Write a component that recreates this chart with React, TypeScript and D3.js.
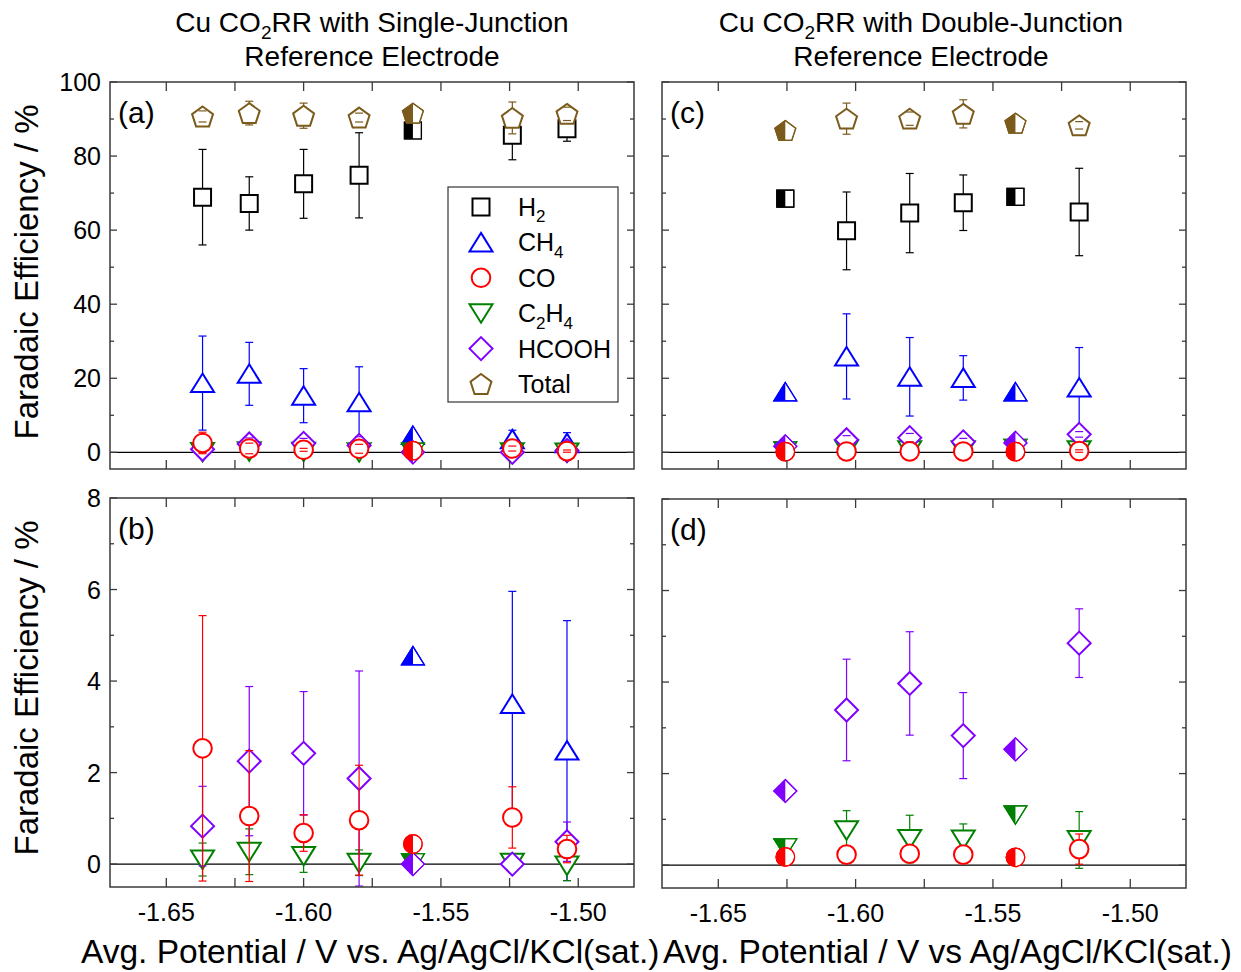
import React from 'react';
import * as d3 from 'd3';

const W = 1241;
const H = 972;
const FONT = '"Liberation Sans", Arial, Helvetica, sans-serif';

// ---- Single-junction reference electrode runs ----
const potentialSJ = [-1.6368, -1.6198, -1.6, -1.5798, -1.5602, -1.524, -1.5041];
const halfFilledSJ = [4];
const h2SJ = [68.9, 67.2, 72.5, 74.8, 86.9, 85.6, 87.4];
const h2SJErr = [12.9, 7.2, 9.3, 11.5, null, 6.6, 3.4];
const ch4SJ = [18.7, 21.2, 15.3, 13.5, 4.55, 3.5, 2.48];
const ch4SJErr = [12.7, 8.5, 7.3, 9.6, null, 2.46, 2.84];
const coSJ = [2.53, 1.05, 0.68, 0.96, 0.44, 1.02, 0.33];
const coSJErr = [2.9, 1.43, 0.4, 1.2, null, 0.67, 0.3];
const c2h4SJ = [0.1, 0.27, 0.18, 0.03, 0.03, 0.03, -0.03];
const c2h4SJErr = [0.36, 0.5, 0.36, 0.28, null, 0.08, 0.33];
const hcoohSJ = [0.83, 2.25, 2.42, 1.87, 0.0, 0.0, 0.49];
const hcoohSJErr = [0.87, 1.63, 1.35, 2.35, null, null, 0.43];
const totalSJ = [90.7, 91.6, 90.9, 90.4, 91.6, 90.3, 91.4];
const totalSJErr = [1.5, 3.2, 3.4, 1.2, null, 4.3, 1.8];

// ---- Double-junction reference electrode runs ----
const potentialDJ = [-1.6256, -1.6033, -1.5803, -1.5608, -1.5418, -1.5186];
const halfFilledDJ = [0, 4];
const h2DJ = [68.5, 59.8, 64.6, 67.4, 69.0, 64.9];
const h2DJErr = [null, 10.5, 10.7, 7.5, null, 11.8];
const ch4DJ = [16.3, 25.9, 20.4, 20.1, 16.3, 17.5];
const ch4DJErr = [null, 11.5, 10.6, 6.0, null, 10.8];
const coDJ = [0.18, 0.23, 0.25, 0.23, 0.17, 0.35];
const coDJErr = [null, null, null, null, null, 0.33];
const c2h4DJ = [0.38, 0.76, 0.57, 0.56, 1.1, 0.55];
const c2h4DJErr = [null, 0.43, 0.52, 0.34, null, 0.62];
const hcoohDJ = [1.62, 3.39, 3.97, 2.83, 2.53, 4.85];
const hcoohDJErr = [null, 1.11, 1.13, 0.94, null, 0.75];
const totalDJ = [86.9, 90.1, 90.1, 91.4, 88.9, 88.3];
const totalDJErr = [null, 4.2, 1.8, 3.8, null, 1.0];

// ---- Axes ----
const xDomain: [number, number] = [-1.6705, -1.4797];
const xTicks = [-1.65, -1.625, -1.6, -1.575, -1.55, -1.525, -1.5];
const xLabelTicks = [-1.65, -1.6, -1.55, -1.5];
const yMajorFull = [0, 20, 40, 60, 80, 100];
const yMinorFull = [10, 30, 50, 70, 90];
const yMajorZoom = [0, 2, 4, 6, 8];
const yMinorZoom = [1, 3, 5, 7];

type Sym = 'square' | 'triUp' | 'triDown' | 'circle' | 'diamond' | 'pentagon';

const species: { key: string; label: string; color: string; sym: Sym }[] = [
  { key: 'H2', label: 'H2', color: '#000000', sym: 'square' },
  { key: 'CH4', label: 'CH4', color: '#0000FF', sym: 'triUp' },
  { key: 'CO', label: 'CO', color: '#FF0000', sym: 'circle' },
  { key: 'C2H4', label: 'C2H4', color: '#008000', sym: 'triDown' },
  { key: 'HCOOH', label: 'HCOOH', color: '#8000FF', sym: 'diamond' },
  { key: 'Total', label: 'Total', color: '#7B5B1B', sym: 'pentagon' },
];
const drawOrder = ['H2', 'CH4', 'C2H4', 'HCOOH', 'CO', 'Total'];

type Series = { v: number[]; e: (number | null)[] };
const dataSJ: Record<string, Series> = {
  H2: { v: h2SJ, e: h2SJErr },
  CH4: { v: ch4SJ, e: ch4SJErr },
  CO: { v: coSJ, e: coSJErr },
  C2H4: { v: c2h4SJ, e: c2h4SJErr },
  HCOOH: { v: hcoohSJ, e: hcoohSJErr },
  Total: { v: totalSJ, e: totalSJErr },
};
const dataDJ: Record<string, Series> = {
  H2: { v: h2DJ, e: h2DJErr },
  CH4: { v: ch4DJ, e: ch4DJErr },
  CO: { v: coDJ, e: coDJErr },
  C2H4: { v: c2h4DJ, e: c2h4DJErr },
  HCOOH: { v: hcoohDJ, e: hcoohDJErr },
  Total: { v: totalDJ, e: totalDJErr },
};

function pentagonPath(r: number): string {
  const pts = d3.range(5).map((i) => {
    const a = -Math.PI / 2 + (i * 2 * Math.PI) / 5;
    return [r * Math.cos(a), r * Math.sin(a) + r * 0.095];
  });
  return 'M' + pts.map((p) => p[0].toFixed(2) + ',' + p[1].toFixed(2)).join('L') + 'Z';
}

const symbolPaths: Record<Sym, string> = {
  square: 'M-8.5,-8.5H8.5V8.5H-8.5Z',
  triUp: 'M0,-9.5L11.5,9L-11.5,9Z',
  triDown: 'M0,9.5L11.5,-9L-11.5,-9Z',
  circle: d3.arc()({ innerRadius: 0, outerRadius: 9.3, startAngle: 0, endAngle: 2 * Math.PI } as any) as string,
  diamond: 'M0,-11.5L11.5,0L0,11.5L-11.5,0Z',
  pentagon: pentagonPath(11),
};
const symbolGap: Record<Sym, number> = {
  square: 8.5, triUp: 9.5, triDown: 9.5, circle: 9.3, diamond: 11.5, pentagon: 10,
};

// Chemical formula text: digits become subscripts
function Chem({ text, sub }: { text: string; sub: number }) {
  const parts = text.match(/\d+|\D+/g) || [];
  const shift = sub * 0.38;
  let lowered = false;
  return (
    <>
      {parts.map((p, i) => {
        const isNum = /\d/.test(p);
        let dy = 0;
        if (isNum && !lowered) { dy = shift; lowered = true; }
        else if (!isNum && lowered) { dy = -shift; lowered = false; }
        return (
          <tspan key={i} dy={dy} fontSize={isNum ? sub : undefined}>{p}</tspan>
        );
      })}
    </>
  );
}

function Marker({ x, y, sym, color, half }: { x: number; y: number; sym: Sym; color: string; half: boolean }) {
  const d = symbolPaths[sym];
  return (
    <g transform={`translate(${x},${y})`}>
      <path d={d} fill="#ffffff" stroke={color} strokeWidth={half ? 1.2 : 2} strokeLinejoin="miter" />
      {half && <path d={d} fill={color} clipPath="url(#leftHalf)" />}
      {half && <path d={d} fill="none" stroke={color} strokeWidth={1.2} />}
    </g>
  );
}

type PanelProps = {
  x0: number; x1: number; y0: number; y1: number;
  yDomain: [number, number];
  yMajor: number[]; yMinor: number[];
  showYLabels: boolean; showXLabels: boolean;
  letter: string;
  potential: number[]; half: number[];
  data: Record<string, Series>;
};

function Panel(p: PanelProps) {
  const xs = d3.scaleLinear().domain(xDomain).range([p.x0, p.x1]);
  const ys = d3.scaleLinear().domain(p.yDomain).range([p.y1, p.y0]);
  const frame = '#3a3a3a';
  const inRange = (v: number) => v >= p.yDomain[0] && v <= p.yDomain[1];

  return (
    <g>
      {/* zero line */}
      <line x1={p.x0} x2={p.x1} y1={ys(0)} y2={ys(0)} stroke="#000" strokeWidth={1.2} />

      {/* data */}
      {drawOrder.map((key) => {
        const sp = species.find((s) => s.key === key)!;
        const series = p.data[key];
        const gap = symbolGap[sp.sym];
        return (
          <g key={key}>
            {series.v.map((v, i) => {
              if (!inRange(v)) return null;
              const cx = xs(p.potential[i]);
              const cy = ys(v);
              const e = series.e[i];
              const isHalf = p.half.includes(i);
              let bars: React.ReactNode = null;
              if (e != null) {
                const topV = v + e;
                const botV = v - e;
                const top = Math.max(ys(topV), p.y0);
                const bot = Math.min(ys(botV), p.y1);
                const capTop = topV <= p.yDomain[1];
                const capBot = botV >= p.yDomain[0];
                bars = (
                  <g stroke={sp.color} strokeWidth={1.2}>
                    {top < cy - gap && <line x1={cx} x2={cx} y1={top} y2={cy - gap} />}
                    {bot > cy + gap && <line x1={cx} x2={cx} y1={cy + gap} y2={bot} />}
                    {capTop && <line x1={cx - 4} x2={cx + 4} y1={top} y2={top} />}
                    {capBot && <line x1={cx - 4} x2={cx + 4} y1={bot} y2={bot} />}
                  </g>
                );
              }
              return (
                <g key={i}>
                  <Marker x={cx} y={cy} sym={sp.sym} color={sp.color} half={isHalf} />
                  {bars}
                </g>
              );
            })}
          </g>
        );
      })}

      {/* frame and ticks */}
      <rect x={p.x0} y={p.y0} width={p.x1 - p.x0} height={p.y1 - p.y0} fill="none" stroke={frame} strokeWidth={1.5} />
      <g stroke={frame} strokeWidth={1.3}>
        {xTicks.map((t) => (
          <g key={t}>
            <line x1={xs(t)} x2={xs(t)} y1={p.y0} y2={p.y0 + 9} />
            <line x1={xs(t)} x2={xs(t)} y1={p.y1} y2={p.y1 - 9} />
          </g>
        ))}
        {p.yMajor.map((t) => (
          <g key={'M' + t}>
            <line x1={p.x0} x2={p.x0 + 7} y1={ys(t)} y2={ys(t)} />
            <line x1={p.x1} x2={p.x1 - 7} y1={ys(t)} y2={ys(t)} />
          </g>
        ))}
        {p.yMinor.map((t) => (
          <g key={'m' + t}>
            <line x1={p.x0} x2={p.x0 + 4} y1={ys(t)} y2={ys(t)} />
            <line x1={p.x1} x2={p.x1 - 4} y1={ys(t)} y2={ys(t)} />
          </g>
        ))}
      </g>

      {p.showYLabels &&
        p.yMajor.map((t) => (
          <text key={'yl' + t} x={p.x0 - 9} y={ys(t) + 9} textAnchor="end" fontSize={25} fill="#000">
            {String(t)}
          </text>
        ))}
      {p.showXLabels &&
        xLabelTicks.map((t) => (
          <text key={'xl' + t} x={xs(t)} y={p.y1 + 34} textAnchor="middle" fontSize={25} fill="#000">
            {t.toFixed(2)}
          </text>
        ))}

      <text x={p.x0 + 8} y={p.y0 + 41} fontSize={30} fill="#000">{p.letter}</text>
    </g>
  );
}

function Legend({ x, y }: { x: number; y: number }) {
  const w = 170;
  const h = 215;
  return (
    <g>
      <rect x={x} y={y} width={w} height={h} fill="#ffffff" stroke="#333" strokeWidth={1.2} />
      {species.map((s, i) => {
        const cy = y + 20 + i * 35.4;
        return (
          <g key={s.key}>
            <Marker x={x + 33} y={cy} sym={s.sym} color={s.color} half={false} />
            <text x={x + 70} y={cy + 9} fontSize={25} fill="#000">
              <Chem text={s.label} sub={17} />
            </text>
          </g>
        );
      })}
    </g>
  );
}

export default function App() {
  const leftX: [number, number] = [110, 634];
  const rightX: [number, number] = [662, 1186];
  return (
    <svg
      width={W}
      height={H}
      viewBox={`0 0 ${W} ${H}`}
      style={{ position: 'absolute', left: 0, top: 0, background: '#fff' }}
      fontFamily={FONT}
    >
      <defs>
        <clipPath id="leftHalf" clipPathUnits="userSpaceOnUse">
          <rect x={-20} y={-20} width={20} height={40} />
        </clipPath>
      </defs>
      <rect x={0} y={0} width={W} height={H} fill="#fff" />

      {/* titles */}
      <text x={372} y={32} textAnchor="middle" fontSize={28} fill="#000">
        <Chem text="Cu CO2RR with Single-Junction" sub={19} />
      </text>
      <text x={372} y={66} textAnchor="middle" fontSize={28} fill="#000">Reference Electrode</text>
      <text x={921} y={32} textAnchor="middle" fontSize={28} fill="#000">
        <Chem text="Cu CO2RR with Double-Junction" sub={19} />
      </text>
      <text x={921} y={66} textAnchor="middle" fontSize={28} fill="#000">Reference Electrode</text>

      <Panel x0={leftX[0]} x1={leftX[1]} y0={82} y1={469} yDomain={[-4.5, 100]}
        yMajor={yMajorFull} yMinor={yMinorFull} showYLabels showXLabels={false}
        letter="(a)" potential={potentialSJ} half={halfFilledSJ} data={dataSJ} />
      <Panel x0={leftX[0]} x1={leftX[1]} y0={498} y1={887} yDomain={[-0.5, 8]}
        yMajor={yMajorZoom} yMinor={yMinorZoom} showYLabels showXLabels
        letter="(b)" potential={potentialSJ} half={halfFilledSJ} data={dataSJ} />
      <Panel x0={rightX[0]} x1={rightX[1]} y0={82} y1={469} yDomain={[-4.5, 100]}
        yMajor={yMajorFull} yMinor={yMinorFull} showYLabels={false} showXLabels={false}
        letter="(c)" potential={potentialDJ} half={halfFilledDJ} data={dataDJ} />
      <Panel x0={rightX[0]} x1={rightX[1]} y0={499} y1={888} yDomain={[-0.5, 8]}
        yMajor={yMajorZoom} yMinor={yMinorZoom} showYLabels={false} showXLabels
        letter="(d)" potential={potentialDJ} half={halfFilledDJ} data={dataDJ} />

      <Legend x={448} y={187} />

      {/* axis titles */}
      <text transform="translate(38,272) rotate(-90)" textAnchor="middle" fontSize={33} fill="#000">
        Faradaic Efficiency / %
      </text>
      <text transform="translate(38,688) rotate(-90)" textAnchor="middle" fontSize={33} fill="#000">
        Faradaic Efficiency / %
      </text>
      <text x={81} y={963} textAnchor="start" fontSize={33.5} fill="#000">
        Avg. Potential / V vs. Ag/AgCl/KCl(sat.)
      </text>
      <text x={1232} y={963} textAnchor="end" fontSize={33.5} fill="#000">
        Avg. Potential / V vs Ag/AgCl/KCl(sat.)
      </text>
    </svg>
  );
}
